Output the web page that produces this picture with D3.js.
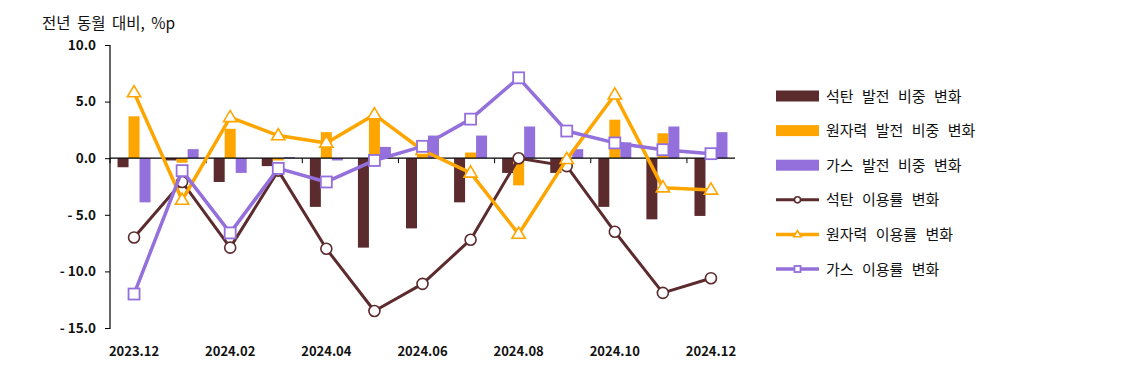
<!DOCTYPE html>
<html><head><meta charset="utf-8">
<script src="https://cdn.jsdelivr.net/npm/d3@7"></script>
<style>body{margin:0;background:#fff;} svg{display:block;}</style>
</head><body>
<svg id="c" width="1133" height="366"></svg>
<script>
const months = ["2023.12","2024.01","2024.02","2024.03","2024.04","2024.05","2024.06","2024.07","2024.08","2024.09","2024.10","2024.11","2024.12"];
const xTickLabels = ["2023.12","2024.02","2024.04","2024.06","2024.08","2024.10","2024.12"];
const yTicks = [10, 5, 0, -5, -10, -15];
const yTickLabels = ["10.0","5.0","0.0","- 5.0","- 10.0","- 15.0"];
const coalShare = [-0.8,-0.2,-2.1,-0.7,-4.3,-7.9,-6.2,-3.9,-1.3,-1.3,-4.3,-5.4,-5.1];
const nuclearShare = [3.7,-0.4,2.6,-0.2,2.3,3.5,1.5,0.5,-2.4,-0.1,3.4,2.2,0.2];
const gasShare = [-3.9,0.8,-1.3,0.1,-0.2,1.0,2.0,2.0,2.8,0.8,1.4,2.8,2.3];
const coalUtil = [-7.0,-2.1,-7.9,-1.1,-8.0,-13.5,-11.1,-7.2,0.0,-0.7,-6.5,-11.9,-10.6];
const nuclearUtil = [5.8,-3.7,3.6,2.0,1.35,3.85,0.7,-1.3,-6.7,-0.1,5.6,-2.6,-2.8];
const gasUtil = [-12.0,-1.1,-6.6,-0.9,-2.1,-0.2,1.05,3.45,7.1,2.4,1.35,0.75,0.4];
const yTitle = "전년 동월 대비, %p";
const legendLabels = ["석탄 발전 비중 변화","원자력 발전 비중 변화","가스 발전 비중 변화","석탄 이용률 변화","원자력 이용률 변화","가스 이용률 변화"];

const C_COAL = "#5c2b2e", C_NUC = "#ffa500", C_GAS = "#9370db";
const FONT = "'Noto Sans CJK KR','Noto Sans',sans-serif";
const svg = d3.select("#c");

const x = d3.scaleBand().domain(months).range([110, 735]).paddingInner(0).paddingOuter(0);
const y = d3.scaleLinear().domain([-15, 10]).range([328, 45]);

const bars = d3.scaleBand().domain(["coal","nuc","gas"]).range([0, 33]);
const barW = 11;
const off = (x.bandwidth() - 33) / 2;

const barSeries = [
  {key:"coal", vals: coalShare, color: C_COAL},
  {key:"nuc", vals: nuclearShare, color: C_NUC},
  {key:"gas", vals: gasShare, color: C_GAS}
];
barSeries.forEach(s => {
  svg.append("g").selectAll("rect").data(s.vals).join("rect")
    .attr("x", (d,i) => x(months[i]) + off + bars(s.key))
    .attr("width", barW)
    .attr("y", d => y(Math.max(0,d)))
    .attr("height", d => Math.abs(y(d) - y(0)))
    .attr("fill", s.color);
});

// Y axis
const yAxis = svg.append("g").attr("transform","translate(110,0)")
  .call(d3.axisLeft(y).tickValues(yTicks).tickSize(5).tickFormat((d,i)=>yTickLabels[i]));
yAxis.select(".domain").attr("stroke","#000").attr("stroke-width",1.2).attr("d","M-5,45.5H0V328.5H-5");
yAxis.selectAll(".tick line").attr("stroke","#000");
yAxis.selectAll(".tick text").attr("font-family",FONT).attr("font-size",13.5).attr("font-weight","bold").attr("fill","#111").attr("x",-14);

// X axis at zero
const xAxisG = svg.append("g").attr("transform",`translate(0,${y(0)})`);
xAxisG.append("line").attr("x1",110).attr("x2",735).attr("stroke","#000").attr("stroke-width",1.2);
const tickPos = d3.range(0, months.length+1, 2).map(i => 110 + i * x.bandwidth());
xAxisG.selectAll("line.t").data(tickPos).join("line").attr("class","t")
  .attr("x1",d=>d).attr("x2",d=>d).attr("y1",0).attr("y2",5).attr("stroke","#000");

svg.append("g").selectAll("text").data(xTickLabels).join("text")
  .attr("x", d => x(d) + x.bandwidth()/2)
  .attr("y", 356)
  .attr("text-anchor","middle")
  .attr("font-family",FONT).attr("font-size",13).attr("font-weight","bold").attr("fill","#111")
  .text(d=>d);

svg.append("text").attr("x",42).attr("y",29).attr("font-family",FONT).attr("font-size",15.5)
  .attr("word-spacing",3).attr("fill","#111").text(yTitle);

// Lines
const cx = i => x(months[i]) + x.bandwidth()/2;
const lineGen = d3.line().x((d,i)=>cx(i)).y(d=>y(d));
const lineSeries = [
  {vals: coalUtil, color: C_COAL, w: 3, marker: "circle"},
  {vals: nuclearUtil, color: C_NUC, w: 3.5, marker: "tri"},
  {vals: gasUtil, color: C_GAS, w: 3.5, marker: "square"}
];
function drawMarker(g, type, color, px, py, s) {
  if (type === "circle") {
    g.append("circle").attr("cx",px).attr("cy",py).attr("r",5.5*s).attr("fill","#fff").attr("stroke",color).attr("stroke-width",1.6);
  } else if (type === "tri") {
    const r = 7*s;
    g.append("path").attr("d",`M${px},${py-r}L${px+r*0.95},${py+r*0.6}L${px-r*0.95},${py+r*0.6}Z`)
      .attr("fill","#fff").attr("stroke",color).attr("stroke-width",1.6);
  } else {
    const h = 5.5*s;
    g.append("rect").attr("x",px-h).attr("y",py-h).attr("width",2*h).attr("height",2*h)
      .attr("fill","#fff").attr("stroke",color).attr("stroke-width",1.8);
  }
}
lineSeries.forEach(s => {
  const g = svg.append("g");
  g.append("path").datum(s.vals).attr("d", lineGen).attr("fill","none").attr("stroke",s.color).attr("stroke-width",s.w).attr("stroke-linejoin","round");
  s.vals.forEach((v,i) => drawMarker(g, s.marker, s.color, cx(i), y(v), 1));
});

// Legend
const lg = svg.append("g");
const ly0 = 96, lstep = 34.6;
legendLabels.forEach((lab,i) => {
  const yy = ly0 + i*lstep;
  if (i < 3) {
    lg.append("rect").attr("x",776).attr("y",yy-5.5).attr("width",43).attr("height",11).attr("fill",barSeries[i].color);
  } else {
    const s = lineSeries[i-3];
    lg.append("line").attr("x1",776).attr("x2",819).attr("y1",yy).attr("y2",yy).attr("stroke",s.color).attr("stroke-width",s.w);
    drawMarker(lg, s.marker, s.color, 797.5, yy, 0.55);
  }
  lg.append("text").attr("x",826).attr("y",yy+5.5).attr("font-family",FONT).attr("font-size",15)
    .attr("word-spacing",5).attr("fill","#111").text(lab);
});
</script>
</body></html>
